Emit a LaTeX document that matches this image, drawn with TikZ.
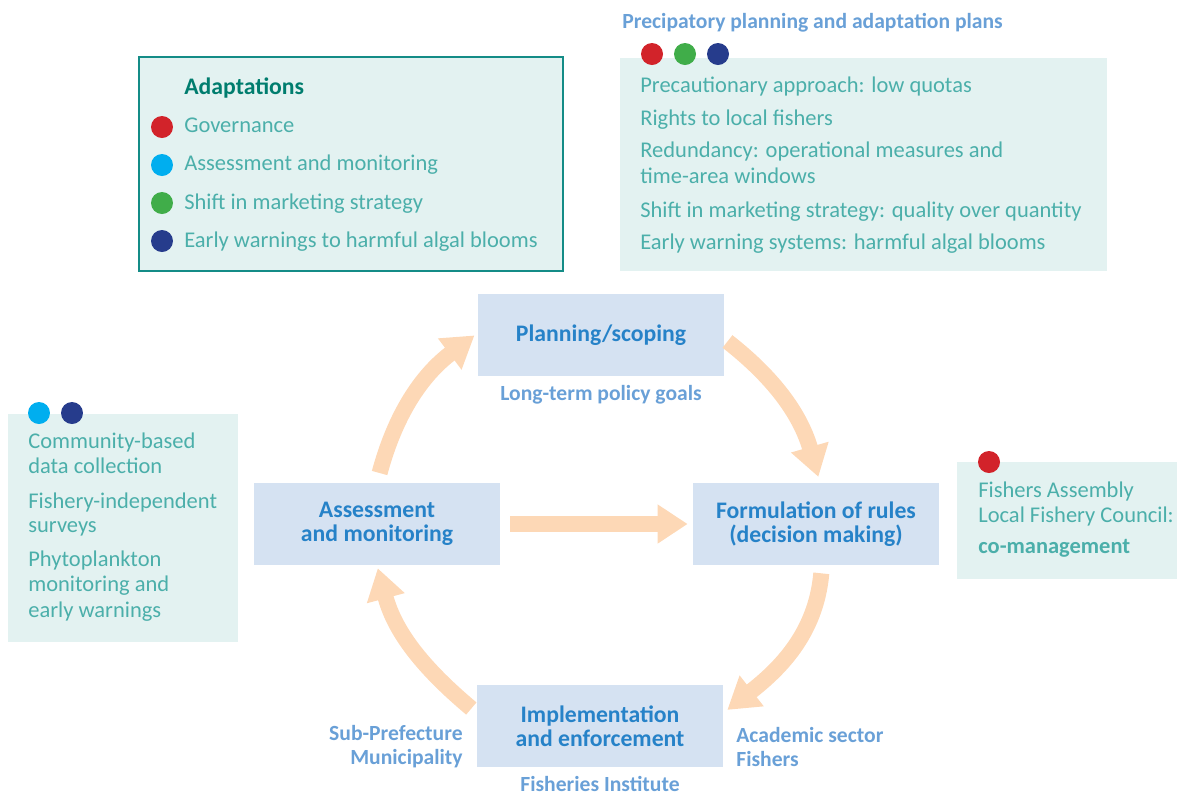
\documentclass[tikz,border=0pt]{standalone}
\usepackage{fontspec}
\setmainfont{Carlito}
\usepackage{xcolor}
\usetikzlibrary{arrows.meta}

\definecolor{stagefill}{RGB}{213,226,242}
\definecolor{stagetext}{RGB}{38,130,200}
\definecolor{actortext}{RGB}{105,160,215}
\definecolor{peach}{RGB}{253,216,182}
\definecolor{infofill}{RGB}{227,242,241}
\definecolor{infotext}{RGB}{75,175,170}
\definecolor{adaptline}{RGB}{20,140,135}
\definecolor{adapttitle}{RGB}{0,125,110}
\definecolor{govred}{RGB}{210,35,42}
\definecolor{assesscyan}{RGB}{0,174,239}
\definecolor{marketgreen}{RGB}{64,173,73}
\definecolor{warnnavy}{RGB}{38,60,140}

\tikzset{
  stage/.style={fill=stagefill, minimum width=4.92cm, minimum height=1.64cm, align=center,
    text=stagetext, font=\bfseries\fontsize{13.5}{13.6}\selectfont},
  actor/.style={text=actortext, inner sep=0pt, font=\bfseries\fontsize{12.3}{13.6}\selectfont},
  cyc/.style={draw=peach, line width=0.32cm, -{Triangle[length=0.62cm,width=0.74cm]}},
  item/.style={anchor=base west, inner sep=0pt, text=infotext, font=\fontsize{12.8}{15}\selectfont},
  dot/.style={circle, inner sep=0pt, minimum size=0.44cm},
}

\begin{document}
\begin{tikzpicture}[x=0.02cm,y=-0.02cm]
    \useasboundingbox (0,0) rectangle (1177,796);

    % info panels
    \filldraw[fill=infofill, draw=adaptline, line width=0.04cm] (139,57) rectangle (563,271);
    \fill[infofill] (620,58) rectangle (1107,271);
    \fill[infofill] (8,414) rectangle (238,642);
    \fill[infofill] (957,462) rectangle (1177,579);

    % adaptations legend
    \node[item, text=adapttitle, font=\bfseries\fontsize{13.5}{15}\selectfont] (at) at (184,94) {Adaptations};
    \node[dot, fill=govred] (ad1) at (162,127) {};
    \node[dot, fill=assesscyan] (ad2) at (162,165) {};
    \node[dot, fill=marketgreen] (ad3) at (162,203) {};
    \node[dot, fill=warnnavy] (ad4) at (162,241) {};
    \node[item] (a1) at (184,132) {Governance};
    \node[item] (a2) at (184,170) {Assessment and monitoring};
    \node[item] (a3) at (184,209) {Shift in marketing strategy};
    \node[item] (a4) at (184,247) {Early warnings to harmful algal blooms};

    % planning panel
    \node[item, text=actortext, font=\bfseries\fontsize{12.3}{14}\selectfont] (pt) at (622,28) {Precipatory planning and adaptation plans};
    \node[dot, fill=govred] (pd1) at (652,54) {};
    \node[dot, fill=marketgreen] (pd2) at (685,54) {};
    \node[dot, fill=warnnavy] (pd3) at (718,54) {};
    \node[item] (p1) at (640,92) {Precautionary approach: low quotas};
    \node[item] (p2) at (640,125) {Rights to local fishers};
    \node[item] (p3) at (640,157) {Redundancy: operational measures and};
    \node[item] (p4) at (640,183) {time-area windows};
    \node[item] (p5) at (640,217) {Shift in marketing strategy: quality over quantity};
    \node[item] (p6) at (640,249) {Early warning systems: harmful algal blooms};

    % monitoring panel
    \node[dot, fill=assesscyan] (md1) at (39,413) {};
    \node[dot, fill=warnnavy] (md2) at (72,413) {};
    \node[item] (m1) at (28,448) {Community-based};
    \node[item] (m2) at (28,473) {data collection};
    \node[item] (m3) at (28,508) {Fishery-independent};
    \node[item] (m4) at (28,532) {surveys};
    \node[item] (m5) at (28,566) {Phytoplankton};
    \node[item] (m6) at (28,591) {monitoring and};
    \node[item] (m7) at (28,617) {early warnings};

    % rules panel
    \node[dot, fill=govred] (rd1) at (989,462) {};
    \node[item] (r1) at (978,497) {Fishers Assembly};
    \node[item] (r2) at (978,522) {Local Fishery Council:};
    \node[item, font=\bfseries\fontsize{12.8}{15}\selectfont] (r3) at (978,553) {co-management};

    % cycle stages
    \node[stage] (plan) at (601,335) {Planning/scoping};
    \node[stage] (assess) at (377,524) {Assessment\\and monitoring};
    \node[stage] (form) at (816,524) {Formulation of rules\\(decision making)};
    \node[stage] (impl) at (600,726) {Implementation\\and enforcement};

    \node[actor] (goals) at (601,395) {Long-term policy goals};
    \node[actor] (inst) at (600,784) {Fisheries Institute};
    \node[actor, anchor=east, align=right] (pref) at (463,747) {Sub-Prefecture\\Municipality};
    \node[actor, anchor=west, align=left] (acad) at (736,747) {Academic sector\\Fishers};

    \draw[cyc, shorten <=0.2cm, shorten >=0.08cm] (assess.north) to[out=75, in=217] ([yshift=0.04cm]plan.west);
    \draw[cyc, shorten <=0.08cm, shorten >=0.12cm] ([yshift=-0.08cm]plan.east) to[out=-38, in=106] ([xshift=0.08cm]form.north);
    \draw[cyc, shorten <=0.16cm, shorten >=0.1cm] ([xshift=0.12cm]form.south) to[out=-95, in=38] ([yshift=0.26cm]impl.east);
    \draw[cyc, shorten <=0.14cm, shorten >=0.06cm] ([yshift=0.26cm]impl.west) to[out=140, in=-75] (assess.south);
    \draw[cyc, -{Triangle[length=0.6cm,width=0.74cm]}, shorten <=0.2cm, shorten >=0.1cm] (assess) -- (form);

\end{tikzpicture}
\end{document}
